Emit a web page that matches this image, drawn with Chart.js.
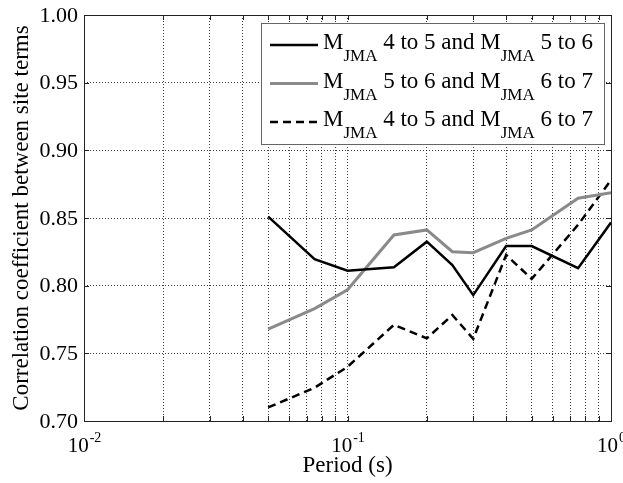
<!DOCTYPE html>
<html>
<head>
<meta charset="utf-8">
<script src="https://cdn.jsdelivr.net/npm/chart.js@4/dist/chart.umd.min.js"></script>
<style>
  html, body { margin: 0; padding: 0; background: #fff; }
  canvas { display: block; }
</style>
</head>
<body>
<canvas id="c" width="623" height="483"></canvas>
<script>
// Periods (s) and correlation coefficients between site terms
const periods45_56 = [0.05, 0.075, 0.1, 0.15, 0.2, 0.25, 0.3, 0.4, 0.5, 0.75, 1.0];
const corr45_56    = [0.851, 0.8195, 0.811, 0.8136, 0.8325, 0.8153, 0.793, 0.8293, 0.8293, 0.8129, 0.8466];

const periods56_67 = [0.05, 0.075, 0.1, 0.15, 0.2, 0.25, 0.3, 0.4, 0.5, 0.75, 1.0];
const corr56_67    = [0.7678, 0.783, 0.797, 0.8375, 0.8412, 0.8251, 0.8244, 0.835, 0.8412, 0.8646, 0.8687];

const periods45_67 = [0.05, 0.075, 0.1, 0.15, 0.2, 0.25, 0.3, 0.4, 0.5, 0.75, 1.0];
const corr45_67    = [0.710, 0.7246, 0.740, 0.771, 0.7611, 0.7783, 0.7607, 0.8227, 0.805, 0.845, 0.878];

// Axis ticks
const xMajorTicks = [0.01, 0.1, 1];
const xExponents  = ['-2', '-1', '0'];
const xMinorTicks = [0.02, 0.03, 0.04, 0.05, 0.06, 0.07, 0.08, 0.09,
                     0.2, 0.3, 0.4, 0.5, 0.6, 0.7, 0.8, 0.9];
const yTicks = [0.70, 0.75, 0.80, 0.85, 0.90, 0.95, 1.00];

// Legend entries: [first range, second range]
const legendRanges = [['4 to 5', '5 to 6'], ['5 to 6', '6 to 7'], ['4 to 5', '6 to 7']];

const SERIF = "'Liberation Serif', 'DejaVu Serif', serif";
const GRAY = '#8a8a8a';

function pts(xs, ys) { return xs.map((x, i) => ({ x: x, y: ys[i] })); }

const seriesStyles = [
  { color: '#000', width: 2.5, dash: [] },
  { color: GRAY,   width: 3,   dash: [] },
  { color: '#000', width: 2.5, dash: [8, 5] }
];

const frameAndLabels = {
  id: 'frameAndLabels',
  beforeDraw(chart) {
    const ctx = chart.ctx;
    ctx.save();
    ctx.fillStyle = '#fff';
    ctx.fillRect(0, 0, chart.width, chart.height);
    ctx.restore();
  },
  afterDraw(chart) {
    const ctx = chart.ctx;
    const a = chart.chartArea;
    const xs = chart.scales.x, ys = chart.scales.y;
    ctx.save();

    // axes box
    ctx.strokeStyle = '#222';
    ctx.lineWidth = 1;
    ctx.setLineDash([]);
    ctx.strokeRect(Math.round(a.left) + 0.5, Math.round(a.top) + 0.5,
                   Math.round(a.right - a.left), Math.round(a.bottom - a.top));

    // inward tick marks
    const tl = 5;
    ctx.beginPath();
    xMajorTicks.concat(xMinorTicks).forEach(v => {
      const px = Math.round(xs.getPixelForValue(v)) + 0.5;
      ctx.moveTo(px, a.bottom); ctx.lineTo(px, a.bottom - tl);
      ctx.moveTo(px, a.top); ctx.lineTo(px, a.top + tl);
    });
    yTicks.forEach(v => {
      const py = Math.round(ys.getPixelForValue(v)) + 0.5;
      ctx.moveTo(a.left, py); ctx.lineTo(a.left + tl, py);
      ctx.moveTo(a.right, py); ctx.lineTo(a.right - tl, py);
    });
    ctx.stroke();

    ctx.fillStyle = '#000';
    // y tick labels
    ctx.font = '22px ' + SERIF;
    ctx.textAlign = 'right';
    ctx.textBaseline = 'middle';
    yTicks.forEach(v => {
      ctx.fillText(v.toFixed(2), a.left - 6, ys.getPixelForValue(v) + 1);
    });

    // x tick labels (powers of ten)
    ctx.textAlign = 'left';
    ctx.textBaseline = 'alphabetic';
    xMajorTicks.forEach((v, i) => {
      const px = xs.getPixelForValue(v);
      ctx.font = '21px ' + SERIF;
      const wb = ctx.measureText('10').width;
      ctx.font = '14px ' + SERIF;
      const we = ctx.measureText(xExponents[i]).width;
      const x0 = px - (wb + we) / 2;
      ctx.font = '21px ' + SERIF;
      ctx.fillText('10', x0, 452);
      ctx.font = '14px ' + SERIF;
      ctx.fillText(xExponents[i], x0 + wb + 1, 442);
    });

    // axis titles
    ctx.font = '23px ' + SERIF;
    ctx.textAlign = 'center';
    ctx.fillText('Period (s)', (a.left + a.right) / 2, 472);
    ctx.save();
    ctx.translate(28, 218);
    ctx.rotate(-Math.PI / 2);
    ctx.fillText('Correlation coefficient between site terms', 0, 0);
    ctx.restore();

    // legend
    const lx = 261, ly = 23, lw = 343, lh = 121;
    ctx.fillStyle = '#fff';
    ctx.fillRect(lx, ly, lw, lh);
    ctx.strokeStyle = '#666';
    ctx.lineWidth = 1;
    ctx.strokeRect(lx + 0.5, ly + 0.5, lw, lh);
    const rowsY = [45, 83.5, 122];
    legendRanges.forEach((r, i) => {
      const st = seriesStyles[i];
      const y = rowsY[i];
      ctx.save();
      ctx.strokeStyle = st.color;
      ctx.lineWidth = st.width;
      ctx.setLineDash(st.dash);
      ctx.beginPath();
      ctx.moveTo(270, y); ctx.lineTo(318, y);
      ctx.stroke();
      ctx.restore();

      ctx.fillStyle = '#000';
      ctx.textAlign = 'left';
      let x = 323;
      const base = y + 4;
      const parts = [
        ['M', 23, 0], ['JMA', 17, 12], [' ' + r[0] + ' and M', 23, 0],
        ['JMA', 17, 12], [' ' + r[1], 23, 0]
      ];
      parts.forEach(p => {
        ctx.font = p[1] + 'px ' + SERIF;
        ctx.fillText(p[0], x, base + p[2]);
        x += ctx.measureText(p[0]).width;
      });
    });
    ctx.restore();
  }
};

const gridOpts = {
  display: true,
  color: 'rgba(0,0,0,0.75)',
  lineWidth: 1,
  drawTicks: false,
  drawOnChartArea: true
};

new Chart(document.getElementById('c'), {
  type: 'line',
  data: {
    datasets: [
      { label: 'MJMA 4 to 5 and MJMA 5 to 6', data: pts(periods45_56, corr45_56) },
      { label: 'MJMA 5 to 6 and MJMA 6 to 7', data: pts(periods56_67, corr56_67) },
      { label: 'MJMA 4 to 5 and MJMA 6 to 7', data: pts(periods45_67, corr45_67) }
    ].map((d, i) => Object.assign(d, {
      borderColor: seriesStyles[i].color,
      borderWidth: seriesStyles[i].width,
      borderDash: seriesStyles[i].dash,
      pointRadius: 0,
      tension: 0,
      fill: false
    }))
  },
  options: {
    responsive: false,
    animation: false,
    layout: { padding: { left: 84, right: 12, top: 15, bottom: 62 } },
    plugins: { legend: { display: false }, tooltip: { enabled: false } },
    scales: {
      x: {
        type: 'logarithmic',
        min: 0.01, max: 1,
        ticks: { display: false },
        grid: gridOpts,
        border: { display: false, dash: [1, 2] },
        afterBuildTicks: s => {
          s.ticks = xMajorTicks.concat(xMinorTicks).sort((p, q) => p - q).map(v => ({ value: v }));
        },
        afterFit: s => { s.height = 0; }
      },
      y: {
        type: 'linear',
        min: 0.70, max: 1.00,
        ticks: { display: false },
        grid: gridOpts,
        border: { display: false, dash: [1, 2] },
        afterBuildTicks: s => { s.ticks = yTicks.map(v => ({ value: v })); },
        afterFit: s => { s.width = 0; }
      }
    }
  },
  plugins: [frameAndLabels]
});
</script>
</body>
</html>
